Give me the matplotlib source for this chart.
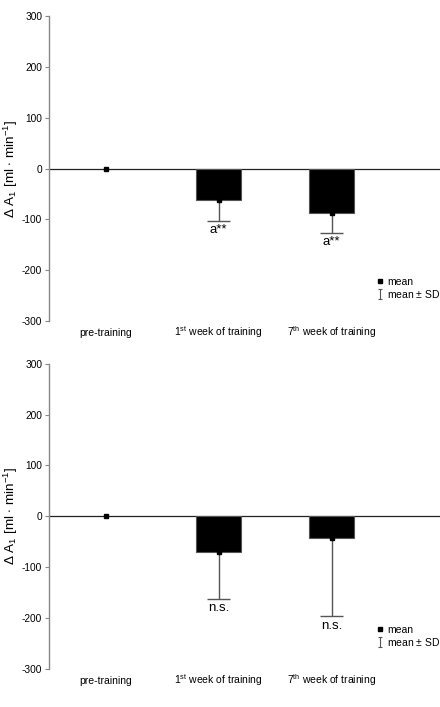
import matplotlib
matplotlib.use("Agg")
import matplotlib.pyplot as plt
from matplotlib.lines import Line2D
from matplotlib.path import Path

plt.rcParams['font.family'] = ['Liberation Sans', 'DejaVu Sans']
plt.rcParams['mathtext.fontset'] = 'custom'
plt.rcParams['mathtext.rm'] = 'Liberation Sans'
plt.rcParams['mathtext.it'] = 'Liberation Sans:italic'
plt.rcParams['mathtext.bf'] = 'Liberation Sans:bold'

# data
categories = ['pre-training', '1$^{\\mathrm{st}}$ week of training', '7$^{\\mathrm{th}}$ week of training']
top_mean = [0, -62, -88]
top_sd = [0, 41, 38]
top_marks = ['', 'a**', 'a**']
bot_mean = [0, -71, -43]
bot_sd = [0, 91, 153]
bot_marks = ['', 'n.s.', 'n.s.']
yticks = [-300, -200, -100, 0, 100, 200, 300]

ylabel = '$\\Delta$ A$_1$ [ml $\\cdot$ min$^{-1}$]'

# capped error symbol for the legend
err_path = Path([(-0.5, -1), (0.5, -1), (0, -1), (0, 1), (-0.5, 1), (0.5, 1)],
                [Path.MOVETO, Path.LINETO, Path.MOVETO, Path.LINETO, Path.MOVETO, Path.LINETO])


def draw_panel(ax, means, sds, marks):
	x = list(range(len(means)))
	ax.axhline(0, color='#222222', lw=0.9, zorder=1)
	ax.bar(x[1:], means[1:], width=0.4, color='black', edgecolor='#555555', linewidth=0.8, zorder=2)
	for xi, m, s, t in zip(x, means, sds, marks):
		if s > 0:
			ax.vlines(xi, m, m - s, color='#555555', lw=1.0, zorder=3)
			ax.hlines(m - s, xi - 0.1, xi + 0.1, color='#555555', lw=1.0, zorder=3)
		if t:
			ax.annotate(t, (xi, m - s), xytext=(0, -2.5), textcoords='offset points',
						ha='center', va='top', fontsize=9.5)
	ax.plot(x, means, 's', color='black', markersize=3, linestyle='none', zorder=4)

	ax.set_xlim(-0.5, 2.96)
	ax.set_ylim(-300, 300)
	ax.set_yticks(yticks)
	ax.set_yticklabels([str(v) for v in yticks], fontsize=7.3)
	ax.set_xticks(x)
	ax.set_xticklabels(categories, fontsize=7.5, va='baseline')
	ax.tick_params(axis='x', length=0, pad=11)
	ax.tick_params(axis='y', direction='out', length=3, width=0.8, color='#888888', pad=2)
	for side in ['top', 'right', 'bottom']:
		ax.spines[side].set_visible(False)
	ax.spines['left'].set_color('#888888')
	ax.spines['left'].set_linewidth(1.0)
	ax.set_ylabel(ylabel, fontsize=9.7)
	ax.yaxis.set_label_coords(-0.074, 0.5)

	handles = [Line2D([], [], marker='s', color='black', markersize=2.5, linestyle='none'),
			   Line2D([], [], marker=err_path, color='#555555', markersize=7, markeredgewidth=0.8,
					  linestyle='none')]
	ax.legend(handles, ['mean', 'mean $\\pm$ SD'], loc='lower right', bbox_to_anchor=(1.02, 0.045),
			  frameon=False, fontsize=7.5, handlelength=0.6, handletextpad=0.4, labelspacing=0.1,
			  borderpad=0.2)


fig = plt.figure(figsize=(4.4, 7.07), dpi=100)
ax1 = fig.add_axes([0.1114, 0.546, 0.8886, 0.431])
ax2 = fig.add_axes([0.1114, 0.0537, 0.8886, 0.432])
draw_panel(ax1, top_mean, top_sd, top_marks)
draw_panel(ax2, bot_mean, bot_sd, bot_marks)

fig.savefig('out.png', dpi=100)
